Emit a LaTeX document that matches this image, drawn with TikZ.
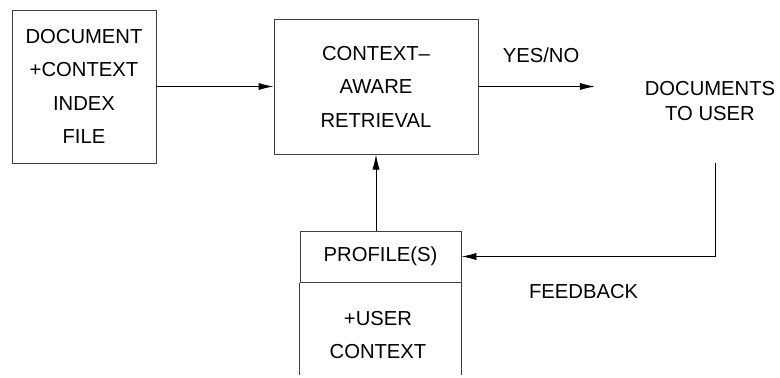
\documentclass[tikz,border=0pt]{standalone}
\usepackage{fontspec}
\setmainfont{Liberation Sans}
\usetikzlibrary{arrows.meta}
\usetikzlibrary{calc}
\tikzstyle{BoxNode}=[rectangle, draw=black!75, line width=0.7pt, align=center, inner sep=0pt, font={\fontsize{14.4}{23.8}\selectfont}]
\tikzstyle{TextNode}=[align=center, inner sep=2pt, font={\fontsize{14.4}{17.8}\selectfont}]
\tikzstyle{FlowEdge}=[->, line width=0.7pt]
\tikzset{>={Latex[length=0.375cm,width=0.18cm]}}
\begin{document}
\begin{tikzpicture}
\useasboundingbox (0,0) rectangle (19.5,-9.425);
\node[BoxNode, minimum width=3.6cm, minimum height=3.825cm](IDX) at (2.1,-2.1625) {DOCUMENT\\+CONTEXT\\INDEX\\FILE};
\node[BoxNode, minimum width=5.1cm, minimum height=3.375cm](CAR) at (9.4,-2.1625) {CONTEXT–\\AWARE\\RETRIEVAL};
\node[TextNode](DOCS) at (17.75,-2.525) {DOCUMENTS\\TO USER};
\node[TextNode](YN) at (13.525,-1.375) {YES/NO};
\node[BoxNode, minimum width=4.025cm, minimum height=1.275cm](PROF) at (9.5125,-6.4125) {PROFILE(S)};
\node[BoxNode, draw=none](UCTX) at (9.45,-8.37) {+USER\\CONTEXT};
\node[TextNode](FB) at (14.59,-7.29) {FEEDBACK};
\coordinate(FBTOP) at (17.875,-4.075);

% open lower part of the profile box
\draw[draw=black!75, line width=0.7pt] (PROF.south west) -- ++(0,-2.3);
\draw[draw=black!75, line width=0.7pt] (PROF.south east) -- ++(0,-2.3);

\draw[FlowEdge](IDX) -- (CAR);
\draw[FlowEdge, shorten >=1.17cm](CAR.east) -- (CAR.east -| DOCS.west);
\draw[FlowEdge](PROF.north -| CAR.south) -- (CAR.south);
\draw[FlowEdge](FBTOP) |- (PROF.east);
\end{tikzpicture}
\end{document}
